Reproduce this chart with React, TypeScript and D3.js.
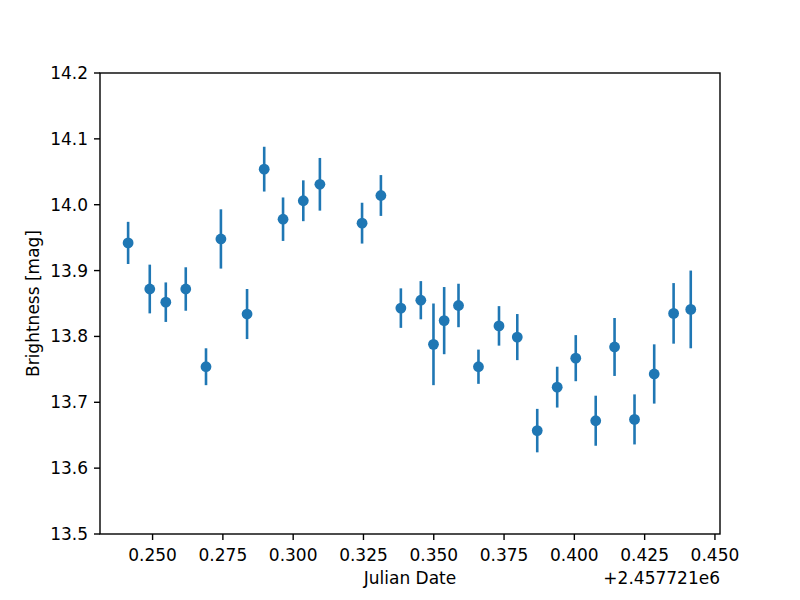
import React from "react";
import * as d3 from "d3";

// 観測データ (JD - 2457721)
const julianDate = [
  0.2413, 0.249, 0.2547, 0.2618, 0.269, 0.2743, 0.2836, 0.2897, 0.2964, 0.3036,
  0.3095, 0.3245, 0.3312, 0.3383, 0.3454, 0.3499, 0.3537, 0.3588, 0.3659, 0.3732,
  0.3797, 0.3868, 0.3939, 0.4005, 0.4076, 0.4143, 0.4214, 0.4284, 0.4353, 0.4414,
];
const brightness = [
  13.942, 13.872, 13.852, 13.872, 13.754, 13.948, 13.834, 14.054, 13.978, 14.006,
  14.031, 13.972, 14.014, 13.843, 13.855, 13.788, 13.824, 13.847, 13.754, 13.816,
  13.799, 13.657, 13.723, 13.767, 13.672, 13.784, 13.674, 13.743, 13.835, 13.841,
];
const brightnessErr = [
  0.032, 0.037, 0.03, 0.033, 0.028, 0.045, 0.038, 0.034, 0.033, 0.031,
  0.04, 0.031, 0.031, 0.03, 0.029, 0.062, 0.051, 0.033, 0.026, 0.03,
  0.035, 0.033, 0.031, 0.035, 0.038, 0.044, 0.038, 0.045, 0.046, 0.059,
];
const xTicks = [0.25, 0.275, 0.3, 0.325, 0.35, 0.375, 0.4, 0.425, 0.45];
const yTicks = [13.5, 13.6, 13.7, 13.8, 13.9, 14.0, 14.1, 14.2];
const xDomain = [0.2313, 0.4518];
const yDomain = [13.5, 14.2];
const offsetLabel = "+2.457721e6";

export default function App() {
  const width = 800,
    height = 600;
  const chartx = 100,
    charty = 73,
    chartw = 720,
    charth = 534;
  const blue = "#1f77b4";
  const font = "'DejaVu Sans', sans-serif";
  const fs = 17;

  const xScale = d3.scaleLinear().domain(xDomain).range([chartx, chartw]);
  const yScale = d3.scaleLinear().domain(yDomain).range([charth, charty]);

  return (
    <svg
      width={width}
      height={height}
      style={{ position: "absolute", left: 0, top: 0, background: "white" }}
      fontFamily={font}
    >
      {/* データ */}
      <g>
        {julianDate.map((x, i) => (
          <line
            key={"e" + i}
            x1={xScale(x)}
            x2={xScale(x)}
            y1={yScale(brightness[i] - brightnessErr[i])}
            y2={yScale(brightness[i] + brightnessErr[i])}
            stroke={blue}
            strokeWidth={2.6}
          />
        ))}
        {julianDate.map((x, i) => (
          <circle
            key={"p" + i}
            cx={xScale(x)}
            cy={yScale(brightness[i])}
            r={5.4}
            fill={blue}
          />
        ))}
      </g>

      {/* 枠 */}
      <rect
        x={chartx}
        y={charty}
        width={chartw - chartx}
        height={charth - charty}
        fill="none"
        stroke="black"
        strokeWidth={1.4}
      />

      {/* x軸目盛 */}
      <g>
        {xTicks.map((t) => (
          <g key={t}>
            <line
              x1={xScale(t)}
              x2={xScale(t)}
              y1={charth}
              y2={charth + 6}
              stroke="black"
              strokeWidth={1.4}
            />
            <text x={xScale(t)} y={561} fontSize={fs} textAnchor="middle">
              {t.toFixed(3)}
            </text>
          </g>
        ))}
      </g>

      {/* y軸目盛 */}
      <g>
        {yTicks.map((t) => (
          <g key={t}>
            <line
              x1={chartx - 6}
              x2={chartx}
              y1={yScale(t)}
              y2={yScale(t)}
              stroke="black"
              strokeWidth={1.4}
            />
            <text
              x={chartx - 12}
              y={yScale(t)}
              fontSize={fs}
              textAnchor="end"
              dominantBaseline="central"
            >
              {t.toFixed(1)}
            </text>
          </g>
        ))}
      </g>

      {/* ラベル */}
      <text x={(chartx + chartw) / 2} y={584} fontSize={fs} textAnchor="middle">
        Julian Date
      </text>
      <text x={chartw} y={584} fontSize={fs} textAnchor="end">
        {offsetLabel}
      </text>
      <text
        transform={`translate(33,${(charty + charth) / 2}) rotate(-90)`}
        fontSize={fs}
        textAnchor="middle"
        dominantBaseline="central"
      >
        Brightness [mag]
      </text>
    </svg>
  );
}
